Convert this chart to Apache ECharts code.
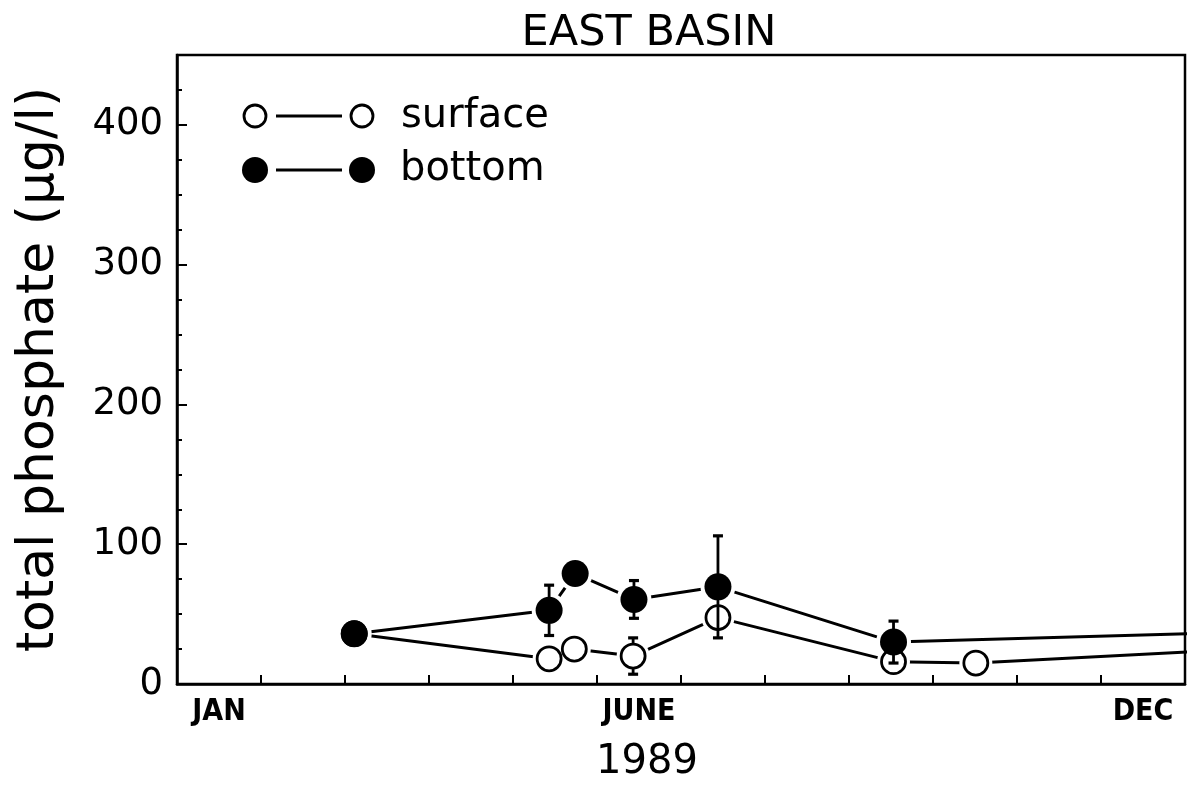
<!DOCTYPE html>
<html>
<head>
<meta charset="utf-8">
<title>East Basin total phosphate 1989</title>
<script src="https://cdn.jsdelivr.net/npm/echarts@6/dist/echarts.min.js"></script>
<style>
  html, body { margin: 0; padding: 0; background: #fff; }
  #chart { width: 1189px; height: 785px; }
</style>
</head>
<body>
<div id="chart"></div>
<script>
// Sampling dates are given as fractional months from 1 January (0 = Jan 1, 12 = Dec 31).
const monthLabelNames = ['JAN', 'JUNE', 'DEC'];
const monthLabelPositions = [0.5, 5.5, 11.5];
const monthTickPositions = [1, 2, 3, 4, 5, 6, 7, 8, 9, 10, 11];
const yLabelValues = [0, 100, 200, 300, 400];
const yMinorValues = [25, 50, 75, 125, 150, 175, 225, 250, 275, 325, 350, 375, 425];

// Surface samples (µg/l) with ± error; the last sample falls in the next year and is clipped.
const surfaceDates = [2.11, 4.43, 4.73, 5.43, 6.44, 8.53, 9.51, 13.0];
const surfaceValues = [36, 18, 25, 20, 47.5, 16, 15, 26];
const surfaceErrors = [0, 0, 0, 13, 0, 0, 0, 0];

// Bottom samples (µg/l) with ± error.
const bottomDates = [2.11, 4.43, 4.74, 5.44, 6.44, 8.53, 13.0];
const bottomValues = [36, 52.7, 79, 60.5, 69.5, 30, 37.6];
const bottomErrors = [0, 18, 0, 13.5, 36.5, 15, 0];

const FONT = "'DejaVu Sans', 'Liberation Sans', sans-serif";
const INK = '#000';

function pairs(xs, ys) { return xs.map((x, i) => [x, ys[i]]); }
function errTriples(xs, ys, es) {
  return xs.map((x, i) => [x, ys[i], es[i]]).filter(d => d[2] > 0);
}

function errorBarRenderer(api) {
  const x = api.value(0), y = api.value(1), e = api.value(2);
  const hi = api.coord([x, y + e]);
  const lo = api.coord([x, y - e]);
  const cap = 5;
  const style = { stroke: INK, lineWidth: 2.8, fill: null };
  const capStyle = { stroke: INK, lineWidth: 3.2, fill: null };
  return {
    type: 'group',
    children: [
      { type: 'line', shape: { x1: hi[0], y1: hi[1], x2: lo[0], y2: lo[1] }, style },
      { type: 'line', shape: { x1: hi[0] - cap, y1: hi[1], x2: hi[0] + cap, y2: hi[1] }, style: capStyle },
      { type: 'line', shape: { x1: lo[0] - cap, y1: lo[1], x2: lo[0] + cap, y2: lo[1] }, style: capStyle }
    ]
  };
}

const surfaceData = pairs(surfaceDates, surfaceValues);
const bottomData = pairs(bottomDates, bottomValues);

const chart = echarts.init(document.getElementById('chart'), null, { renderer: 'canvas' });

chart.setOption({
  backgroundColor: '#fff',
  animation: false,
  title: [
    {
      text: 'EAST BASIN',
      left: 644, top: 7, textAlign: 'center',
      textStyle: { fontFamily: FONT, fontSize: 43, fontWeight: 'normal', color: INK }
    },
    {
      text: '1989',
      left: 642, top: 738, textAlign: 'center',
      textStyle: { fontFamily: FONT, fontSize: 40, fontWeight: 'normal', color: INK }
    }
  ],
  grid: {
    left: 177, right: 4, top: 55, bottom: 101,
    show: true, borderColor: INK, borderWidth: 2.5, backgroundColor: 'transparent',
    containLabel: false
  },
  xAxis: {
    type: 'value', min: 0, max: 12, interval: 1,
    axisLine: { show: true, lineStyle: { color: INK, width: 2.5 } },
    axisTick: { show: true, inside: true, length: 9, customValues: monthTickPositions, lineStyle: { color: INK, width: 2 } },
    axisLabel: {
      show: true, customValues: monthLabelPositions, margin: 13,
      formatter: v => monthLabelNames[monthLabelPositions.indexOf(v)] || '',
      fontFamily: "'Liberation Sans Narrow', 'DejaVu Sans Condensed', 'Liberation Sans', sans-serif",
      fontWeight: 'bold', fontSize: 30, color: INK
    },
    splitLine: { show: false }
  },
  yAxis: [
    {
      type: 'value', min: 0, max: 450,
      name: 'total phosphate (μg/l)', nameLocation: 'middle', nameRotate: 90, nameGap: 112,
      nameTextStyle: { fontFamily: FONT, fontSize: 52, color: INK },
      axisLine: { show: true, lineStyle: { color: INK, width: 2.5 } },
      axisTick: { show: true, inside: true, length: 10, customValues: yLabelValues, lineStyle: { color: INK, width: 2 } },
      axisLabel: { show: true, customValues: yLabelValues, margin: 14, fontFamily: FONT, fontSize: 37, color: INK },
      splitLine: { show: false }
    },
    {
      type: 'value', min: 0, max: 450, position: 'left',
      axisLine: { show: false },
      axisTick: { show: true, inside: true, length: 5, customValues: yMinorValues, lineStyle: { color: INK, width: 2 } },
      axisLabel: { show: false },
      splitLine: { show: false }
    }
  ],
  series: [
    // connecting lines
    { type: 'line', data: surfaceData, showSymbol: false, clip: true, z: 2,
      lineStyle: { color: INK, width: 3 }, silent: true },
    { type: 'line', data: bottomData, showSymbol: false, clip: true, z: 2,
      lineStyle: { color: INK, width: 3 }, silent: true },
    // white halos that leave a gap between each marker and its lines
    { type: 'scatter', data: surfaceData, symbol: 'circle', symbolSize: 33, clip: true, z: 3,
      itemStyle: { color: '#fff', opacity: 1 }, silent: true },
    { type: 'scatter', data: bottomData, symbol: 'circle', symbolSize: 35, clip: true, z: 3,
      itemStyle: { color: '#fff', opacity: 1 }, silent: true },
    // surface error bars and open markers
    { type: 'custom', data: errTriples(surfaceDates, surfaceValues, surfaceErrors), renderItem: (p, api) => errorBarRenderer(api), z: 4, clip: true, silent: true },
    { type: 'scatter', data: surfaceData, symbol: 'circle', symbolSize: 24, clip: true, z: 5,
      itemStyle: { color: '#fff', borderColor: INK, borderWidth: 2.8, opacity: 1 }, silent: true },
    // bottom error bars and filled markers
    { type: 'custom', data: errTriples(bottomDates, bottomValues, bottomErrors), renderItem: (p, api) => errorBarRenderer(api), z: 6, clip: true, silent: true },
    { type: 'scatter', data: bottomData, symbol: 'circle', symbolSize: 27, clip: true, z: 7,
      itemStyle: { color: INK, opacity: 1 }, silent: true }
  ],
  graphic: [
    // legend: surface
    { type: 'circle', shape: { cx: 255, cy: 116, r: 11 }, style: { fill: '#fff', stroke: INK, lineWidth: 2.8 }, z: 10 },
    { type: 'line', shape: { x1: 276, y1: 116, x2: 342, y2: 116 }, style: { stroke: INK, lineWidth: 3 }, z: 10 },
    { type: 'circle', shape: { cx: 362, cy: 116, r: 11 }, style: { fill: '#fff', stroke: INK, lineWidth: 2.8 }, z: 10 },
    { type: 'text', left: 401, top: 97, style: { text: 'surface', font: "40px 'DejaVu Sans', sans-serif", fill: INK }, z: 10 },
    // legend: bottom
    { type: 'circle', shape: { cx: 255, cy: 170, r: 13 }, style: { fill: INK }, z: 10 },
    { type: 'line', shape: { x1: 276, y1: 170, x2: 342, y2: 170 }, style: { stroke: INK, lineWidth: 3 }, z: 10 },
    { type: 'circle', shape: { cx: 362, cy: 170, r: 13 }, style: { fill: INK }, z: 10 },
    { type: 'text', left: 400, top: 150, style: { text: 'bottom', font: "40px 'DejaVu Sans', sans-serif", fill: INK }, z: 10 }
  ]
});
</script>
</body>
</html>
